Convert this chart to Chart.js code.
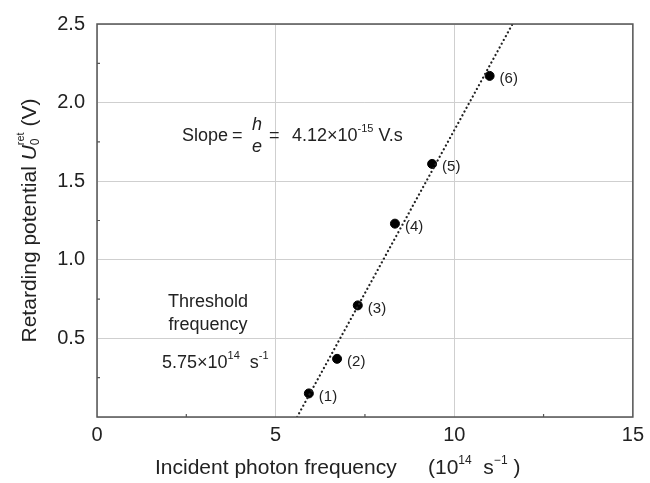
<!DOCTYPE html>
<html>
<head>
<meta charset="utf-8">
<script src="https://cdn.jsdelivr.net/npm/chart.js@4.4.1/dist/chart.umd.min.js"></script>
<style>
html, body { margin: 0; padding: 0; background: #fff; }
</style>
</head>
<body>
<canvas id="chart" width="650" height="483"></canvas>
<script>
// measured points (frequency in 10^14 s^-1, potential in V)
const pointLabels = ['(1)', '(2)', '(3)', '(4)', '(5)', '(6)'];
const freq = [5.93, 6.72, 7.30, 8.34, 9.38, 10.99];
const potential = [0.15, 0.37, 0.71, 1.23, 1.61, 2.17];

// dotted fit line, ends
const fitFreq = [5.60, 11.63];
const fitPotential = [0, 2.5];

// axis ticks
const xMinorTicks = [2.5, 7.5, 12.5];
const yMinorTicks = [0.25, 0.75, 1.25, 1.75, 2.25];

const FONT = '"Liberation Sans", Arial, sans-serif';
const INK = '#222';

function setFont(ctx, size, italic) {
    ctx.font = (italic ? 'italic ' : '') + size + 'px ' + FONT;
}

// runs: [text, size, dy, italic, noAdvance]
function runsWidth(ctx, runs) {
    let w = 0;
    runs.forEach(r => {
        setFont(ctx, r[1], r[3]);
        if (!r[4]) w += ctx.measureText(r[0]).width;
    });
    return w;
}

function drawRuns(ctx, x, y, runs) {
    let cx = x;
    runs.forEach(r => {
        setFont(ctx, r[1], r[3]);
        ctx.fillText(r[0], cx, y + r[2]);
        if (!r[4]) cx += ctx.measureText(r[0]).width;
    });
    return cx;
}

const decorPlugin = {
    id: 'decor',
    afterDraw(chart) {
        const ctx = chart.ctx;
        const area = chart.chartArea;
        const xs = chart.scales.x;
        const ys = chart.scales.y;
        ctx.save();

        // frame
        ctx.strokeStyle = '#555';
        ctx.lineWidth = 1.5;
        ctx.strokeRect(area.left, area.top, area.right - area.left, area.bottom - area.top);

        // small inward minor ticks
        ctx.lineWidth = 1.2;
        ctx.beginPath();
        xMinorTicks.forEach(v => {
            const px = xs.getPixelForValue(v);
            ctx.moveTo(px, area.bottom);
            ctx.lineTo(px, area.bottom - 3);
        });
        yMinorTicks.forEach(v => {
            const py = ys.getPixelForValue(v);
            ctx.moveTo(area.left, py);
            ctx.lineTo(area.left + 3, py);
        });
        ctx.stroke();

        ctx.fillStyle = INK;
        ctx.textBaseline = 'middle';
        ctx.textAlign = 'left';

        // point labels
        const meta = chart.getDatasetMeta(1);
        setFont(ctx, 15, false);
        meta.data.forEach((pt, i) => {
            ctx.fillText(pointLabels[i], pt.x + 10, pt.y + 3);
        });

        // slope annotation
        drawRuns(ctx, 182, 136, [['Slope', 18, 0]]);
        drawRuns(ctx, 232, 136, [['=', 18, 0]]);
        setFont(ctx, 18, true);
        ctx.textAlign = 'center';
        ctx.fillText('h', 257, 125);
        ctx.fillText('e', 257, 147);
        ctx.textAlign = 'left';
        drawRuns(ctx, 269, 136, [['=', 18, 0]]);
        drawRuns(ctx, 292, 136, [
            ['4.12\u00d710', 18, 0],
            ['-15', 11, -7],
            [' V.s', 18, 0]
        ]);

        // threshold annotation
        ctx.textAlign = 'center';
        setFont(ctx, 18, false);
        ctx.fillText('Threshold', 208, 302);
        ctx.fillText('frequency', 208, 325);
        ctx.textAlign = 'left';
        drawRuns(ctx, 162, 363, [
            ['5.75\u00d710', 18, 0],
            ['14', 11, -7],
            ['  s', 18, 0],
            ['-1', 11, -7]
        ]);

        // x axis title
        drawRuns(ctx, 155, 468, [['Incident photon frequency', 21, 0]]);
        drawRuns(ctx, 428, 468, [
            ['(10', 21, 0],
            ['14', 12, -7],
            ['  s', 21, 0],
            ['\u22121', 12, -7],
            [' )', 21, 0]
        ]);

        // y axis title, rotated
        const yRuns = [
            ['Retarding potential ', 21, 0],
            ['U', 21, 0, true],
            ['0', 12, 6, false, true],
            ['ret', 11, -9],
            [' (V)', 21, 0]
        ];
        ctx.translate(30, (area.top + area.bottom) / 2);
        ctx.rotate(-Math.PI / 2);
        drawRuns(ctx, -runsWidth(ctx, yRuns) / 2, 0, yRuns);

        ctx.restore();
    }
};

const ctx = document.getElementById('chart').getContext('2d');
new Chart(ctx, {
    type: 'scatter',
    data: {
        datasets: [
            {
                label: 'fit',
                data: fitFreq.map((f, i) => ({ x: f, y: fitPotential[i] })),
                showLine: true,
                borderColor: INK,
                borderWidth: 2.2,
                borderDash: [0.1, 4.2],
                borderCapStyle: 'round',
                pointRadius: 0
            },
            {
                label: 'measured',
                data: freq.map((f, i) => ({ x: f, y: potential[i] })),
                backgroundColor: '#000',
                borderColor: '#000',
                pointRadius: 4.5
            }
        ]
    },
    options: {
        responsive: false,
        animation: false,
        devicePixelRatio: 1,
        layout: { padding: { top: 22, right: 14, left: 0, bottom: 0 } },
        plugins: {
            legend: { display: false },
            tooltip: { enabled: false }
        },
        scales: {
            x: {
                type: 'linear',
                min: 0,
                max: 15,
                afterFit: s => { s.height = 66; },
                ticks: {
                    stepSize: 5,
                    padding: 6,
                    color: INK,
                    font: { family: FONT, size: 20 }
                },
                grid: { color: '#cfcfcf', drawTicks: false },
                border: { display: false }
            },
            y: {
                min: 0,
                max: 2.5,
                afterFit: s => { s.width = 97; },
                ticks: {
                    stepSize: 0.5,
                    padding: 12,
                    color: INK,
                    font: { family: FONT, size: 20 },
                    callback: v => v === 0 ? '' : v.toFixed(1)
                },
                grid: { color: '#cfcfcf', drawTicks: false },
                border: { display: false }
            }
        }
    },
    plugins: [decorPlugin]
});
</script>
</body>
</html>
